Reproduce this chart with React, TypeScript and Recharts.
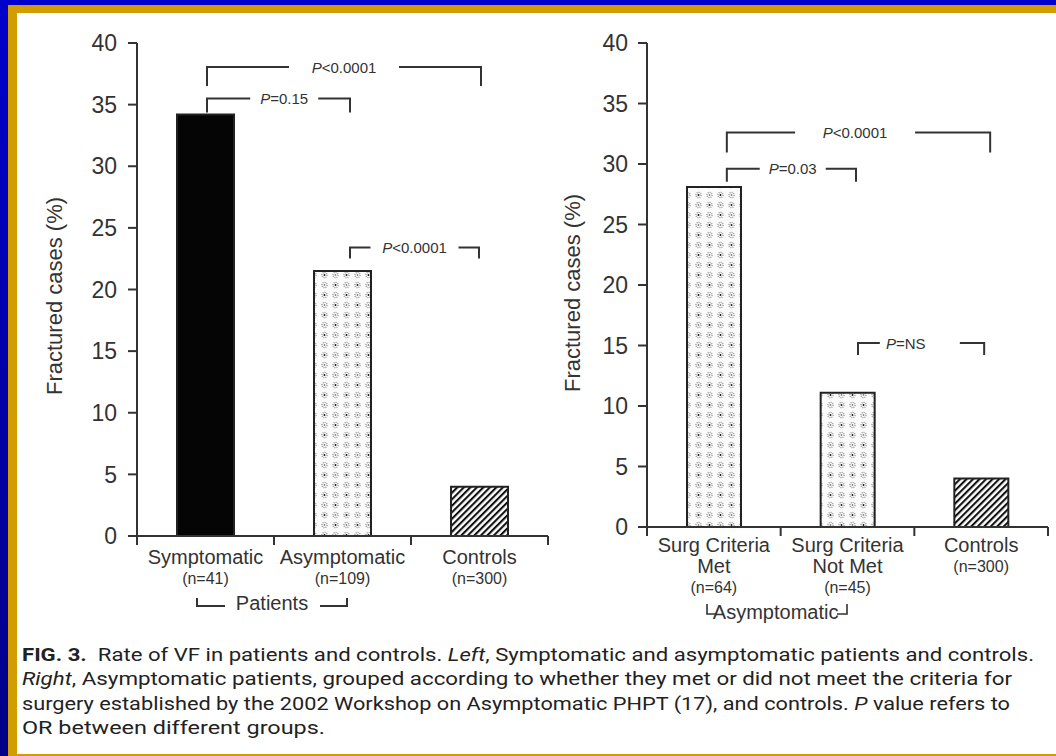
import React from 'react';
import { BarChart, Bar, XAxis, YAxis, Cell } from 'recharts';

// left panel: all patients vs controls
const leftGroups = ['Symptomatic', 'Asymptomatic', 'Controls'];
const leftLines = [['Symptomatic'], ['Asymptomatic'], ['Controls']];
const leftCounts = ['(n=41)', '(n=109)', '(n=300)'];
const leftRates = [34.2, 21.5, 4.0];

// right panel: asymptomatic split by surgical criteria
const rightGroups = ['Surg Criteria Met', 'Surg Criteria Not Met', 'Controls'];
const rightLines = [['Surg Criteria', 'Met'], ['Surg Criteria', 'Not Met'], ['Controls']];
const rightCounts = ['(n=64)', '(n=45)', '(n=300)'];
const rightRates = [28.1, 11.1, 4.0];

const yTicks = [0, 5, 10, 15, 20, 25, 30, 35, 40];

// comparison brackets: category indexes, bracket level (%), p value text
const leftPairs = [
  { from: 0, to: 2, level: 38.05, p: '<0.0001' },
  { from: 0, to: 1, level: 35.5, p: '=0.15' },
  { from: 1, to: 2, level: 23.4, p: '<0.0001' },
];
const rightPairs = [
  { from: 0, to: 2, level: 32.6, p: '<0.0001' },
  { from: 0, to: 1, level: 29.6, p: '=0.03' },
  { from: 1, to: 2, level: 15.2, p: '=NS' },
];

const captionLines = [
  [['b', 'FIG. 3.'], ['', '\u00a0\u00a0Rate of VF in patients and controls. '], ['i', 'Left'], ['', ', Symptomatic and asymptomatic patients and controls.']],
  [['i', 'Right'], ['', ', Asymptomatic patients, grouped according to whether they met or did not meet the criteria for']],
  [['', 'surgery established by the 2002 Workshop on Asymptomatic PHPT (17), and controls. '], ['i', 'P'], ['', ' value refers to']],
  [['', 'OR between different groups.']],
];
const captionWidths = [1012, 990, 988, 303];

const FONT = '"Liberation Sans", Arial, Helvetica, sans-serif';
const INK = '#333';
const H = 640;
const Y_W = 60;
const X_H = 100;

type Box = { left: number; right: number; top: number; bottom: number };
const LEFT_BOX: Box = { left: 137, right: 548, top: 43, bottom: 536 };
const RIGHT_BOX: Box = { left: 647, right: 1048, top: 43, bottom: 527 };

const band = (b: Box) => (b.right - b.left) / 3;
const xOf = (b: Box, i: number) => b.left + band(b) * (i + 0.5);
const yOf = (b: Box, v: number) => b.bottom - (v / 40) * (b.bottom - b.top);

function makeTick(lines: string[][], counts: string[], half: number, first: number, step: number) {
  return (props: any) => {
    const { x, y, payload, index } = props;
    const off = typeof payload?.offset === 'number' && payload.offset > 0 ? payload.offset : half;
    const i = typeof payload?.index === 'number' ? payload.index : index;
    const rows = lines[i] || [];
    const last = i === lines.length - 1;
    return (
      <g>
        <line x1={x - off} x2={x - off} y1={y} y2={y + 9} stroke={INK} strokeWidth={2} />
        {last && <line x1={x + off} x2={x + off} y1={y} y2={y + 9} stroke={INK} strokeWidth={2} />}
        {rows.map((t, k) => (
          <text key={k} x={x} y={y + first + k * step + 7} textAnchor="middle" fontSize={20} fill={INK} fontFamily={FONT}>
            {t}
          </text>
        ))}
        <text x={x} y={y + first + rows.length * step + 6} textAnchor="middle" fontSize={16} fill={INK} fontFamily={FONT}>
          {counts[i]}
        </text>
      </g>
    );
  };
}

type PanelProps = {
  width: number;
  box: Box;
  names: string[];
  lines: string[][];
  counts: string[];
  rates: number[];
  fills: string[];
  barSize: number;
  tickMargin: number;
  first: number;
  step: number;
};

function Panel(p: PanelProps) {
  const data = p.names.map((name, i) => ({ name, rate: p.rates[i] }));
  const margin = {
    top: p.box.top,
    left: p.box.left - Y_W,
    right: p.width - p.box.right,
    bottom: H - X_H - p.box.bottom,
  };
  return (
    <div style={{ position: 'absolute', left: 0, top: 0 }}>
      <BarChart width={p.width} height={H} data={data} margin={margin}>
        <XAxis
          dataKey="name"
          height={X_H}
          interval={0}
          tickLine={false}
          tickSize={0}
          tickMargin={0}
          axisLine={{ stroke: INK, strokeWidth: 2 }}
          tick={makeTick(p.lines, p.counts, band(p.box) / 2, p.first, p.step)}
        />
        <YAxis
          width={Y_W}
          domain={[0, 40]}
          ticks={yTicks}
          interval={0}
          tickSize={9}
          tickMargin={p.tickMargin}
          axisLine={{ stroke: INK, strokeWidth: 2 }}
          tickLine={{ stroke: INK, strokeWidth: 2 }}
          tick={{ fontSize: 23, fill: INK, fontFamily: FONT }}
        />
        <Bar dataKey="rate" barSize={p.barSize} isAnimationActive={false} stroke="#222" strokeWidth={2}>
          {data.map((d, i) => (
            <Cell key={d.name} fill={p.fills[i]} />
          ))}
        </Bar>
      </BarChart>
    </div>
  );
}

type Pair = { from: number; to: number; level: number; p: string };

// per-bracket fine placement: leg offsets, leg drop, label position and gap
const leftTweaks = [
  { dxA: 1.5, dxB: 1.5, drop: 19, frac: 0.5, gap: 55, tdx: 0 },
  { dxA: 1.5, dxB: 7.5, drop: 14, frac: 0.54, gap: 34, tdx: 0 },
  { dxA: 7.5, dxB: -0.5, drop: 11, frac: 0.5, gap: 44, tdx: 0 },
];
const rightTweaks = [
  { dxA: 13, dxB: 9, drop: 20, frac: 0.487, gap: 60, tdx: 0 },
  { dxA: 13, dxB: 8.5, drop: 13, frac: 0.51, gap: 33, tdx: 0 },
  { dxA: 10.5, dxB: 3, drop: 12, frac: 0.49, gap: 40, tdx: -14 },
];

function Brackets({ box, pairs, tweaks }: { box: Box; pairs: Pair[]; tweaks: typeof leftTweaks }) {
  return (
    <g>
      {pairs.map((b, k) => {
        const t = tweaks[k];
        const xa = xOf(box, b.from) + t.dxA;
        const xb = xOf(box, b.to) + t.dxB;
        const y = yOf(box, b.level);
        const mid = xa + (xb - xa) * t.frac;
        return (
          <g key={k}>
            <path
              d={`M${xa},${y + t.drop}V${y}H${mid - t.gap}M${mid + t.gap},${y}H${xb}V${y + t.drop}`}
              fill="none"
              stroke={INK}
              strokeWidth={2}
            />
            <text x={mid + t.tdx} y={y + 5.5} textAnchor="middle" fontSize={15} fill={INK} fontFamily={FONT}>
              <tspan fontStyle="italic">P</tspan>
              {b.p}
            </text>
          </g>
        );
      })}
    </g>
  );
}

function Overlay() {
  const yLabel = (x: number, y: number) => (
    <text x={x} y={y} transform={`rotate(-90 ${x} ${y})`} textAnchor="middle" fontSize={22} fill={INK} fontFamily={FONT}>
      Fractured cases (%)
    </text>
  );
  // group labels sit between the first two categories of each panel
  const patientsX = (xOf(LEFT_BOX, 0) + xOf(LEFT_BOX, 1)) / 2 - 2;
  const asympX = RIGHT_BOX.left + band(RIGHT_BOX) - 5;
  return (
    <svg width={1056} height={756} style={{ position: 'absolute', left: 0, top: 0, pointerEvents: 'none' }}>
      {yLabel(62, 296)}
      {yLabel(580, 293)}
      <Brackets box={LEFT_BOX} pairs={leftPairs} tweaks={leftTweaks} />
      <Brackets box={RIGHT_BOX} pairs={rightPairs} tweaks={rightTweaks} />

      <path d="M197,598V606H225M320,606H347V598" fill="none" stroke={INK} strokeWidth={2} />
      <text x={patientsX} y={610} textAnchor="middle" fontSize={20} fill={INK} fontFamily={FONT}>
        Patients
      </text>

      <path d="M707,604V614H716M837,614H847V604" fill="none" stroke={INK} strokeWidth={1.6} />
      <text x={asympX} y={619} textAnchor="middle" fontSize={20} fill={INK} fontFamily={FONT}>
        Asymptomatic
      </text>

      {captionLines.map((parts, i) => (
        <text
          key={i}
          x={22}
          y={661 + i * 24.3}
          fontSize={17.5}
          fill="#222"
          fontFamily='"Roboto", "Noto Sans", sans-serif'
          textLength={captionWidths[i]}
          lengthAdjust="spacingAndGlyphs"
        >
          {parts.map(([s, t], k) => (
            <tspan key={k} fontWeight={s === 'b' ? 'bold' : undefined} fontStyle={s === 'i' ? 'italic' : undefined}>
              {t}
            </tspan>
          ))}
        </text>
      ))}
    </svg>
  );
}

function Patterns() {
  const cells: [number, number, string][] = [
    [5.5, 5, '#111'],
    [16.5, 5, '#888'],
    [5.5, 15, '#888'],
    [16.5, 15, '#111'],
  ];
  return (
    <svg width={0} height={0} style={{ position: 'absolute' }}>
      <defs>
        <pattern id="dots" width={22} height={20} patternUnits="userSpaceOnUse">
          <rect width={22} height={20} fill="#fbfbfb" />
          {cells.map(([cx, cy, c], k) => (
            <g key={k}>
              <circle cx={cx} cy={cy} r={2.6} fill="none" stroke="#999" strokeWidth={1.3} strokeDasharray="1.1 0.9" />
              <circle cx={cx} cy={cy} r={0.95} fill={c} />
            </g>
          ))}
        </pattern>
        <pattern id="hatch" width={4.6} height={4.6} patternUnits="userSpaceOnUse" patternTransform="rotate(45)">
          <rect width={4.6} height={4.6} fill="#fff" />
          <rect width={2.1} height={4.6} fill="#111" />
        </pattern>
      </defs>
    </svg>
  );
}

export default function App() {
  return (
    <div style={{ position: 'absolute', left: 0, top: 0, width: 1056, height: 756, background: '#fff', overflow: 'hidden' }}>
      <Patterns />
      {/* slide frame */}
      <div style={{ position: 'absolute', left: 0, top: 0, width: 1056, height: 5, background: '#0000cc' }} />
      <div style={{ position: 'absolute', left: 0, top: 0, width: 8, height: 756, background: 'linear-gradient(#0000cc, #000088)' }} />
      <div style={{ position: 'absolute', left: 8, top: 5, width: 1048, height: 8, background: '#d29d00' }} />
      <div style={{ position: 'absolute', left: 8, top: 5, width: 9, height: 751, background: '#d29d00' }} />
      <div style={{ position: 'absolute', left: 8, top: 754, width: 1048, height: 2, background: '#d29d00' }} />

      <Panel
        width={560}
        box={LEFT_BOX}
        names={leftGroups}
        lines={leftLines}
        counts={leftCounts}
        rates={leftRates}
        fills={['#050505', 'url(#dots)', 'url(#hatch)']}
        barSize={57}
        tickMargin={11}
        first={21}
        step={21}
      />
      <Panel
        width={1056}
        box={RIGHT_BOX}
        names={rightGroups}
        lines={rightLines}
        counts={rightCounts}
        rates={rightRates}
        fills={['url(#dots)', 'url(#dots)', 'url(#hatch)']}
        barSize={54}
        tickMargin={10}
        first={18}
        step={21}
      />
      <Overlay />
    </div>
  );
}
